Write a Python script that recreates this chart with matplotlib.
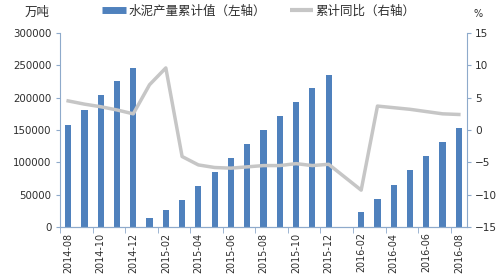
import numpy as np
import matplotlib
matplotlib.use("Agg")
import matplotlib.pyplot as plt
from matplotlib.lines import Line2D

plt.rcParams['font.family'] = ['DejaVu Sans', 'Noto Sans CJK SC']

months = ["2014-08", "2014-09", "2014-10", "2014-11", "2014-12",
          "2015-01", "2015-02", "2015-03", "2015-04", "2015-05", "2015-06",
          "2015-07", "2015-08", "2015-09", "2015-10", "2015-11", "2015-12",
          "2016-01", "2016-02", "2016-03", "2016-04", "2016-05", "2016-06",
          "2016-07", "2016-08"]
output_cum = [158000, 181000, 204500, 226000, 245500,
              14000, 26500, 42000, 63500, 85500, 107000,
              128500, 150000, 172000, 194000, 215000, 235000,
              np.nan, 23500, 43500, 65500, 88000, 110000,
              131500, 153000]
yoy = [4.5, 4.0, 3.6, 3.1, 2.5,
       7.0, 9.6, -4.1, -5.4, -5.8, -5.9,
       -5.7, -5.5, -5.5, -5.2, -5.5, -5.3,
       np.nan, -9.3, 3.7, 3.45, 3.2, 2.85,
       2.5, 2.4]

bar_label = "水泥产量累计值（左轴）"
line_label = "累计同比（右轴）"

W, H = 498, 278
fig = plt.figure(figsize=(W / 100, H / 100), dpi=100)
ax = fig.add_axes([60 / W, (H - 227) / H, (467 - 60) / W, (227 - 33) / H])
ax2 = ax.twinx()

spine_c = '#8eaacb'
text_c = '#2e2e2e'
bar_c = '#4f81bd'
line_c = '#c6c6c6'

x = np.arange(len(months))
vals = np.array(output_cum, dtype=float)
ax.bar(x[~np.isnan(vals)], vals[~np.isnan(vals)], width=0.38, color=bar_c, zorder=2)

yv = np.array(yoy, dtype=float)
m = ~np.isnan(yv)
ax2.plot(x[m], yv[m], color=line_c, lw=2.5, solid_joinstyle='round', zorder=3)

ax.set_xlim(-0.5, len(months) - 0.5)
ax.set_ylim(0, 300000)
ax.set_yticks(np.arange(0, 300001, 50000))
ax2.set_ylim(-15, 15)
ax2.set_yticks(np.arange(-15, 16, 5))

# x ticks: labels every 2 months at bar centres, tick marks at boundaries
ax.set_xticks(x[::2])
ax.set_xticklabels(months[::2], rotation=90, fontsize=6.9, color=text_c)
ax.tick_params(axis='x', which='major', length=0, pad=4)
ax.set_xticks(np.arange(-0.5, len(months), 2), minor=True)
ax.tick_params(axis='x', which='minor', length=4, color=spine_c, direction='out')

ax.tick_params(axis='y', length=3, color=spine_c, labelsize=7.4, labelcolor=text_c, pad=3)
ax2.tick_params(axis='y', length=3, color=spine_c, labelsize=7.6, labelcolor=text_c, pad=3)

for a in (ax, ax2):
    a.spines['top'].set_visible(False)
    a.spines['left'].set_color(spine_c)
    a.spines['right'].set_color(spine_c)
    a.spines['bottom'].set_color(spine_c)
    a.patch.set_visible(False)
ax2.spines['left'].set_visible(False)
ax.spines['right'].set_visible(False)

fig.text(37 / W, 1 - 12 / H, "万吨", fontsize=9, color=text_c, ha='center', va='center',
         family=['Noto Sans CJK SC', 'DejaVu Sans'])
fig.text(478 / W, 1 - 14 / H, "%", fontsize=7, color=text_c, ha='center', va='center')

handles = [Line2D([], [], color=bar_c, lw=5, solid_capstyle='butt'),
           Line2D([], [], color=line_c, lw=3, solid_capstyle='butt')]
leg = fig.legend(handles, [bar_label, line_label], loc='center left',
                 bbox_to_anchor=(102 / W, 1 - 11 / H), ncol=2, frameon=False,
                 prop={'family': ['Noto Sans CJK SC'], 'size': 9},
                 handlelength=1.9, handletextpad=0.2, columnspacing=1.9,
                 borderpad=0, borderaxespad=0)
for t in leg.get_texts():
    t.set_color(text_c)

fig.savefig("out.png", dpi=100)
